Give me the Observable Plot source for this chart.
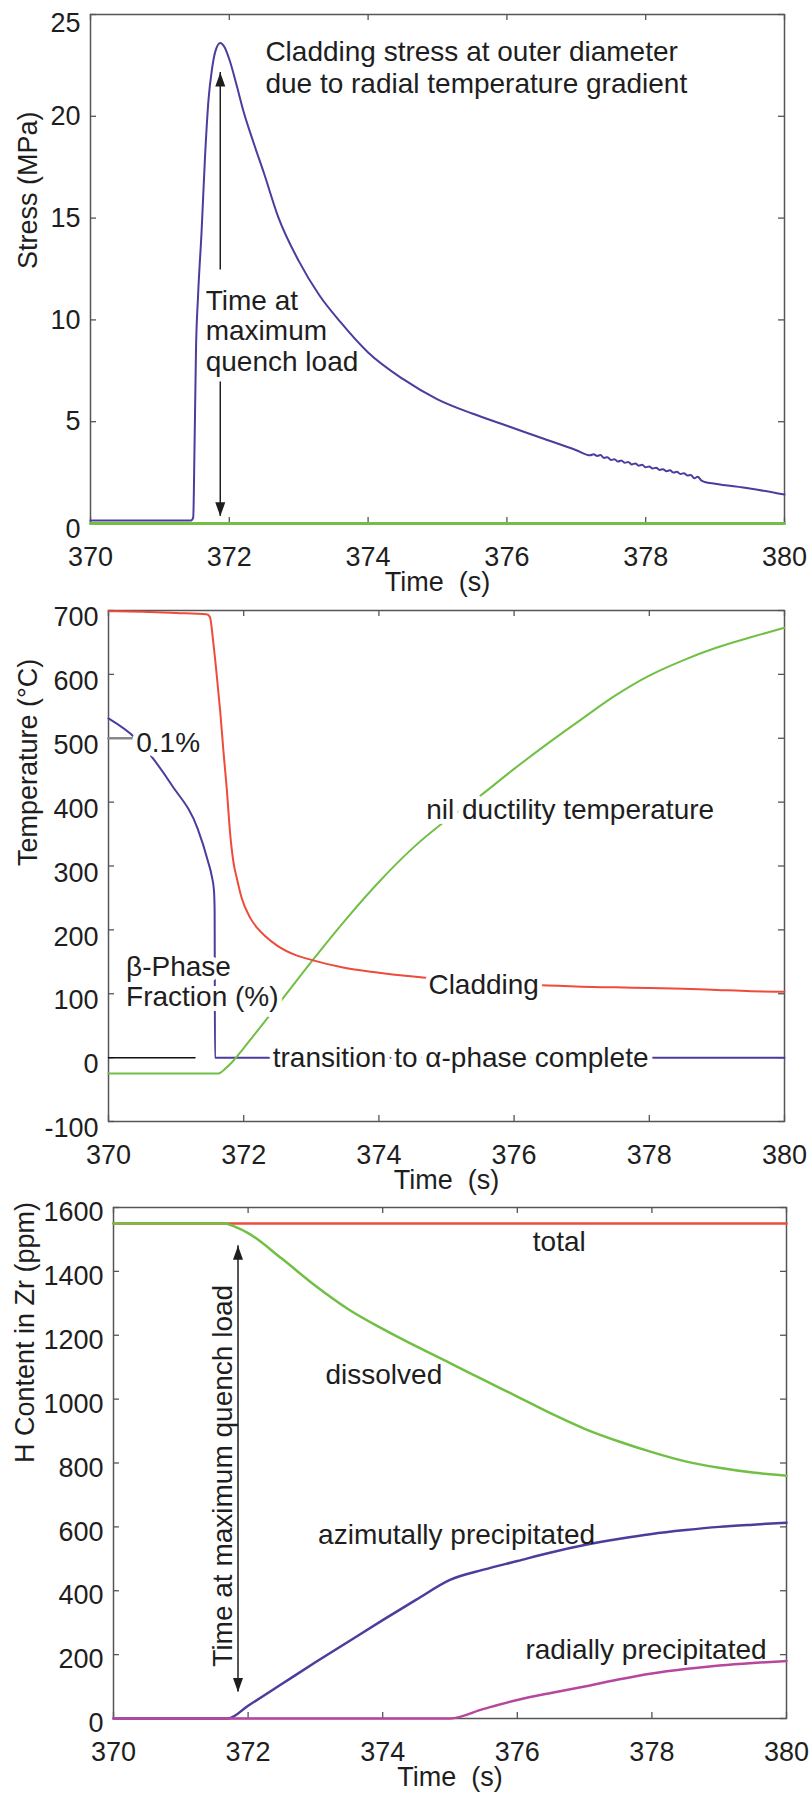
<!DOCTYPE html>
<html>
<head>
<meta charset="utf-8">
<script src="https://cdn.jsdelivr.net/npm/d3@7"></script>
<script src="https://cdn.jsdelivr.net/npm/@observablehq/plot@0.6"></script>
<style>
html, body { margin: 0; padding: 0; background: #fff; }
#chart svg { display: block; overflow: visible; }
#chart svg text { white-space: pre; }
</style>
</head>
<body>
<div id="chart"></div>
<script>
// ---------- Shared axis values ----------
const timeTicks = [370, 372, 374, 376, 378, 380];
const stressTicks = [0, 5, 10, 15, 20, 25];
const tempTicks = [-100, 0, 100, 200, 300, 400, 500, 600, 700];
const hTicks = [0, 200, 400, 600, 800, 1000, 1200, 1400, 1600];

// ---------- Panel 1: cladding stress ----------
const stressTime = [370.0, 371.45, 371.48, 371.50, 371.52, 371.55, 371.60, 371.65, 371.70, 371.75, 371.80, 371.87, 371.93,
  372.0, 372.1, 372.2, 372.35, 372.5, 372.7, 373.0, 373.3, 373.6, 374.0, 374.5, 375.0, 375.5, 376.0, 376.5, 377.0, 377.2,
  377.25, 377.3, 377.35, 377.4, 377.45, 377.5, 377.55, 377.6, 377.65, 377.7, 377.75, 377.8, 377.85, 377.9, 377.95,
  378.0, 378.05, 378.1, 378.15, 378.2, 378.25, 378.3, 378.35, 378.4, 378.45, 378.5, 378.55, 378.6, 378.65, 378.7,
  378.75, 378.8, 378.85, 379.0, 379.5, 380.0];
const stressMPa = [0.15, 0.15, 0.3, 4.0, 8.5, 11.2, 14.3, 18.0, 20.8, 22.3, 23.2, 23.6, 23.4,
  22.8, 21.6, 20.3, 18.7, 17.2, 15.1, 12.9, 11.2, 9.9, 8.4, 7.1, 6.1, 5.4, 4.8, 4.2, 3.6, 3.35,
  3.4, 3.32, 3.36, 3.22, 3.26, 3.12, 3.16, 3.04, 3.1, 2.98, 3.02, 2.9, 2.95, 2.84, 2.88,
  2.76, 2.8, 2.7, 2.74, 2.63, 2.67, 2.57, 2.61, 2.5, 2.54, 2.43, 2.47, 2.36, 2.38, 2.22,
  2.3, 2.12, 2.04, 1.95, 1.72, 1.42];
const baseTime = [370, 380];
const baseStress = [0, 0];

// ---------- Panel 2: temperatures ----------
const claddingTime = [370.0, 370.5, 371.0, 371.45, 371.50, 371.55, 371.60, 371.65, 371.70, 371.75, 371.80, 371.85, 371.90,
  371.97, 372.09, 372.2, 372.32, 372.5, 372.78, 373.0, 373.47, 374.0, 374.39, 375.0, 375.5, 376.0, 376.5, 377.0,
  377.5, 378.0, 378.5, 379.0, 379.5, 380.0];
const claddingTemp = [699, 698, 696, 694, 690, 650, 600, 545, 480, 420, 350, 305, 280,
  250, 220, 203, 190, 175, 160, 153, 141, 133, 128, 122, 118, 115, 113, 111,
  110, 109, 108, 106, 104, 103];
const nilTime = [370.0, 371.6, 371.65, 371.72, 371.82, 372.0, 372.5, 373.0, 373.5, 374.0, 374.5, 375.0, 375.5,
  376.0, 376.5, 377.0, 377.5, 378.0, 378.5, 379.0, 379.5, 380.0];
const nilTemp = [-25, -25, -24, -18, -8, 15, 82, 150, 215, 275, 328, 372, 410,
  452, 492, 530, 567, 598, 622, 642, 658, 673];
const betaTime = [370.0, 370.4, 370.94, 371.32, 371.47, 371.53, 371.56, 371.57, 371.575, 380.0];
const betaFraction = [531, 500, 426, 358, 308, 283, 262, 230, 0, 0];
const betaZeroTime = [370.0, 371.28];
const betaZero = [0, 0];
const betaMarkTime = [370.0, 370.38];
const betaMark = [500, 500];

// ---------- Panel 3: hydrogen content ----------
const totalTime = [370, 380];
const totalH = [1550, 1550];
const dissolvedTime = [370, 371.65, 371.8, 372.0, 372.5, 373.0, 373.5, 374.0, 374.5, 375.0, 375.5, 376.0, 376.5,
  377.0, 377.5, 378.0, 378.5, 379.0, 379.5, 380.0];
const dissolvedH = [1550, 1550, 1540, 1520, 1440, 1355, 1280, 1220, 1165, 1113, 1060, 1008, 955,
  907, 868, 834, 805, 785, 770, 760];
const azimTime = [370, 371.7, 372.0, 372.5, 373.0, 373.5, 374.0, 374.5, 375.0, 375.5, 376.0, 376.5, 377.0,
  377.5, 378.0, 378.5, 379.0, 379.5, 380.0];
const azimH = [0, 0, 40, 108, 176, 242, 308, 372, 434, 466, 493, 520, 543, 562, 578, 590, 600, 607, 613];
const radialTime = [370, 375.0, 375.5, 376.0, 376.5, 377.0, 377.5, 378.0, 378.5, 379.0, 379.5, 380.0];
const radialH = [0, 0, 30, 58, 80, 100, 122, 141, 155, 166, 174, 180];

// ---------- Annotations (data coordinates) ----------
const stressNotes = [
  {x: 372.52, y: 22.43, text: "Cladding stress at outer diameter\ndue to radial temperature gradient", lh: 1.15},
  {x: 371.66, y: 9.48, text: "Time at\nmaximum\nquench load", lh: 1.09}
];
const stressArrow = {x: 371.87, top: 22.15, topGapEnd: 12.45, bottomGapStart: 6.95, bottom: 0.35};
const tempNotes = [
  {x: 370.41, y: 494, text: "0.1%"},
  {x: 374.70, y: 389, text: "nil ductility temperature"},
  {x: 370.26, y: 120, text: "\u03b2-Phase\nFraction (%)"},
  {x: 372.43, y: 0, text: "transition to \u03b1-phase complete"}
];
const tempCenterNotes = [{x: 375.55, y: 113, text: "Cladding"}];
const hNotes = [
  {x: 376.23, y: 1492, text: "total"},
  {x: 373.15, y: 1076, text: "dissolved"},
  {x: 373.04, y: 573, text: "azimutally precipitated"},
  {x: 376.12, y: 213, text: "radially precipitated"}
];
const hVertical = [{x: 371.63, y: 760, text: "Time at maximum quench load"}];
const hArrow = {x: 371.85, top: 1480, bottom: 83};

// ---------- Styling ----------
const FONT = "'Liberation Sans', Arial, Helvetica, sans-serif";
const FS = 27;      // tick and axis labels
const NS = 28;      // annotations
const INK = "#1e1e1e";
const AXIS = "#555";
const PURPLE = "#4b3c9d";
const RED = "#ef4b3a";
const GREEN = "#71bf44";
const MAGENTA = "#b5489e";

const zip = (xs, ys) => xs.map((x, i) => ({x, y: ys[i]}));

const headUp = {draw(ctx) { ctx.moveTo(0, 0); ctx.lineTo(-5, 14); ctx.lineTo(5, 14); ctx.closePath(); }};
const headDown = {draw(ctx) { ctx.moveTo(0, 0); ctx.lineTo(-5, -14); ctx.lineTo(5, -14); ctx.closePath(); }};

function frameMarks(yTicks, yDomain, yLabelGroups) {
  const [y0, y1] = yDomain;
  return [
    Plot.frame({stroke: AXIS, strokeWidth: 1.5}),
    Plot.ruleX(timeTicks, {x: d => d, y1: y0, y2: y0, insetBottom: 6, stroke: AXIS, strokeWidth: 1.3}),
    Plot.ruleX(timeTicks, {x: d => d, y1: y1, y2: y1, insetTop: 6, stroke: AXIS, strokeWidth: 1.3}),
    Plot.ruleY(yTicks, {y: d => d, x1: 370, x2: 370, insetRight: -6, stroke: AXIS, strokeWidth: 1.3}),
    Plot.ruleY(yTicks, {y: d => d, x1: 380, x2: 380, insetLeft: -6, stroke: AXIS, strokeWidth: 1.3}),
    Plot.axisX(timeTicks, {tickSize: 0, tickPadding: 23, fontSize: FS, label: null, tickFormat: d => String(d), fill: INK}),
    ...yLabelGroups.map(([vals, dy]) =>
      Plot.axisY(vals, {tickSize: 0, tickPadding: 10, dy, fontSize: FS, label: null, tickFormat: d => String(d), fill: INK}))
  ];
}

function axisLabels(xLabel, yLabel, yDx) {
  return [
    Plot.text([xLabel], {text: d => d, frameAnchor: "bottom", dy: 67, fontSize: FS, fill: INK}),
    Plot.text([yLabel], {text: d => d, frameAnchor: "left", dx: yDx, rotate: -90, fontSize: FS, fill: INK})
  ];
}

const common = {width: 810, style: {fontFamily: FONT, fontSize: FS + "px", color: INK, background: "white"}};

// ---------- Panel 1 ----------
const p1 = Plot.plot({
  ...common,
  height: 600, marginTop: 14, marginBottom: 77, marginLeft: 90, marginRight: 26,
  x: {domain: [370, 380]},
  y: {domain: [0, 25]},
  marks: [
    ...frameMarks(stressTicks, [0, 25], [[stressTicks.filter(d => d > 0 && d < 25), 0], [[25], 9], [[0], 6]]),
    Plot.line(zip(baseTime, baseStress), {x: "x", y: "y", stroke: GREEN, strokeWidth: 3}),
    Plot.line(zip(stressTime, stressMPa), {x: "x", y: "y", stroke: PURPLE, strokeWidth: 2, curve: "monotone-x"}),
    Plot.ruleX([stressArrow], {x: "x", y1: "topGapEnd", y2: "top", stroke: INK, strokeWidth: 1.5}),
    Plot.ruleX([stressArrow], {x: "x", y1: "bottom", y2: "bottomGapStart", stroke: INK, strokeWidth: 1.5}),
    Plot.dot([stressArrow], {x: "x", y: "top", symbol: headUp, fill: INK, stroke: null}),
    Plot.dot([stressArrow], {x: "x", y: "bottom", symbol: headDown, fill: INK, stroke: null}),
    ...stressNotes.map(n => Plot.text([n], {x: "x", y: "y", text: "text", textAnchor: "start", lineHeight: n.lh, fontSize: NS, fill: INK})),
    ...axisLabels("Time  (s)", "Stress (MPa)", -62)
  ]
});

// ---------- Panel 2 ----------
const halo = {stroke: "white", strokeWidth: 10};
const p2 = Plot.plot({
  ...common,
  height: 600, marginTop: 10, marginBottom: 79, marginLeft: 108, marginRight: 26,
  x: {domain: [370, 380]},
  y: {domain: [-100, 700]},
  marks: [
    ...frameMarks(tempTicks, [-100, 700], [[tempTicks, 7]]),
    Plot.line(zip(betaZeroTime, betaZero), {x: "x", y: "y", stroke: "#111", strokeWidth: 1.5}),
    Plot.line(zip(betaMarkTime, betaMark), {x: "x", y: "y", stroke: "#888", strokeWidth: 2.5}),
    Plot.line(zip(betaTime, betaFraction), {x: "x", y: "y", stroke: PURPLE, strokeWidth: 2, curve: "monotone-x"}),
    Plot.line(zip(nilTime, nilTemp), {x: "x", y: "y", stroke: GREEN, strokeWidth: 2, curve: "monotone-x"}),
    Plot.line(zip(claddingTime, claddingTemp), {x: "x", y: "y", stroke: RED, strokeWidth: 2, curve: "monotone-x"}),
    Plot.text(tempNotes, {x: "x", y: "y", text: "text", textAnchor: "start", lineHeight: 1.08, fontSize: NS, fill: INK, ...halo}),
    Plot.text(tempCenterNotes, {x: "x", y: "y", text: "text", textAnchor: "middle", fontSize: NS, fill: INK, ...halo}),
    ...axisLabels("Time  (s)", "Temperature (\u00b0C)", -80)
  ]
});

// ---------- Panel 3 ----------
const p3 = Plot.plot({
  ...common,
  height: 602, marginTop: 7, marginBottom: 84, marginLeft: 113, marginRight: 24,
  x: {domain: [370, 380]},
  y: {domain: [0, 1600]},
  marks: [
    ...frameMarks(hTicks, [0, 1600], [[hTicks, 5]]),
    Plot.line(zip(totalTime, totalH), {x: "x", y: "y", stroke: RED, strokeWidth: 2.5}),
    Plot.line(zip(dissolvedTime, dissolvedH), {x: "x", y: "y", stroke: GREEN, strokeWidth: 2.5, curve: "monotone-x"}),
    Plot.line(zip(azimTime, azimH), {x: "x", y: "y", stroke: PURPLE, strokeWidth: 2.5, curve: "monotone-x"}),
    Plot.line(zip(radialTime, radialH), {x: "x", y: "y", stroke: MAGENTA, strokeWidth: 2.5, curve: "monotone-x"}),
    Plot.ruleX([hArrow], {x: "x", y1: "bottom", y2: "top", stroke: INK, strokeWidth: 1.5}),
    Plot.dot([hArrow], {x: "x", y: "top", symbol: headUp, fill: INK, stroke: null}),
    Plot.dot([hArrow], {x: "x", y: "bottom", symbol: headDown, fill: INK, stroke: null}),
    Plot.text(hNotes, {x: "x", y: "y", text: "text", textAnchor: "start", fontSize: NS, fill: INK}),
    Plot.text(hVertical, {x: "x", y: "y", text: "text", rotate: -90, fontSize: NS, fill: INK}),
    ...axisLabels("Time  (s)", "H Content in Zr (ppm)", -88)
  ]
});

document.getElementById("chart").append(p1, p2, p3);
</script>
</body>
</html>
